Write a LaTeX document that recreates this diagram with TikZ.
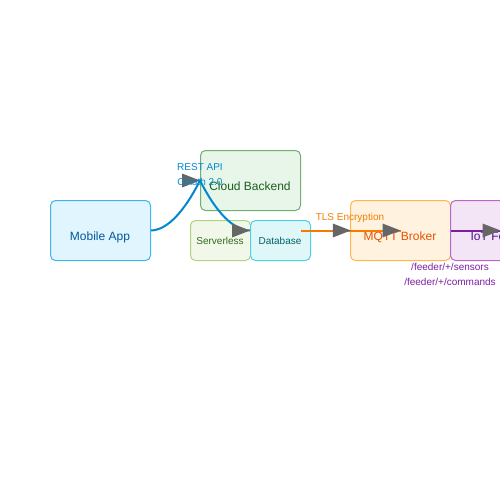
\documentclass[tikz,border=0pt]{standalone}
\usepackage{fontspec}
\setmainfont{Liberation Sans}
\usetikzlibrary{calc}
\definecolor{mobfill}{HTML}{E1F5FE}\definecolor{mobline}{HTML}{3FB5EC}\definecolor{mobtext}{HTML}{01579B}
\definecolor{cldfill}{HTML}{E8F5E9}\definecolor{cldline}{HTML}{6FAF72}\definecolor{cldtext}{HTML}{1B5E20}
\definecolor{srvfill}{HTML}{F1F8E9}\definecolor{srvline}{HTML}{AED581}\definecolor{srvtext}{HTML}{33691E}
\definecolor{dbfill}{HTML}{E0F7FA}\definecolor{dbline}{HTML}{4DD0E1}\definecolor{dbtext}{HTML}{006064}
\definecolor{mqfill}{HTML}{FFF3E0}\definecolor{mqline}{HTML}{FFB74D}\definecolor{mqtext}{HTML}{E65100}
\definecolor{iotfill}{HTML}{F3E5F5}\definecolor{iotline}{HTML}{BA68C8}\definecolor{iottext}{HTML}{4A148C}
\definecolor{blueedge}{HTML}{0288D1}\definecolor{orangeedge}{HTML}{F57C00}\definecolor{purpleedge}{HTML}{7B1FA2}
\definecolor{tipgrey}{HTML}{666666}
\newcommand\gtip[1]{\fill[tipgrey] (#1) -- ++(-18,-7) -- ++(0,14) -- cycle;}
\tikzset{
  box/.style={draw, rounded corners=5pt, line width=1pt, inner sep=0pt, anchor=north west},
  bigtxt/.style={anchor=base, inner sep=0pt, font=\fontsize{12}{14}\selectfont},
  smalltxt/.style={anchor=base, inner sep=0pt, font=\fontsize{10}{12}\selectfont},
  edge/.style={line width=2pt},
}
\begin{document}
\begin{tikzpicture}[x=1pt,y=-1pt]
\useasboundingbox (0,0) rectangle (500,500);
\clip (0,0) rectangle (500,500);
% boxes
\node[box, fill=mobfill, draw=mobline, minimum width=100pt, minimum height=60pt] (mob) at (50,200) {};
\node[box, fill=cldfill, draw=cldline, minimum width=100pt, minimum height=60pt] (cld) at (200,150) {};
\node[box, fill=srvfill, draw=srvline, minimum width=60pt, minimum height=40pt] (srv) at (190,220) {};
\node[box, fill=dbfill, draw=dbline, minimum width=60pt, minimum height=40pt] (db) at (250,220) {};
\node[box, fill=mqfill, draw=mqline, minimum width=100pt, minimum height=60pt] (mq) at (350,200) {};
\node[box, fill=iotfill, draw=iotline, minimum width=100pt, minimum height=60pt] (iot) at (450,200) {};
% box texts
\node[bigtxt, text=mobtext] (tmob) at (100,240) {Mobile App};
\node[bigtxt, text=cldtext] (tcld) at (250,190) {Cloud Backend};
\node[smalltxt, text=srvtext] (tsrv) at (220,244) {Serverless};
\node[smalltxt, text=dbtext] (tdb) at (280,244) {Database};
\node[bigtxt, text=mqtext] (tmq) at (400,240) {MQTT Broker};
\node[bigtxt, text=iottext] (tiot) at (500,240) {IoT Feeder};
% edges
\coordinate (dbin) at (db.west |- mob.east);
\draw[edge, blueedge] (mob.east) .. controls (166.67,230) and (183.33,213.33) .. (cld.west)
   .. controls (216.67,213.33) and (233.33,230) .. (dbin);
\coordinate (ostart) at (cld.east |- mq.center);
\coordinate (omid) at ($(ostart)!0.5!(mq.center)$);
\draw[edge, orangeedge] (ostart) -- (mq.center);
\draw[edge, purpleedge] (mq.east) -- (iot.center);
\gtip{cld.west}
\gtip{dbin}
\gtip{omid}
\gtip{mq.center}
\gtip{iot.center}
% edge labels
\node[smalltxt, text=blueedge] (l1) at (200,170) {REST API};
\node[smalltxt, text=blueedge] (l2) at (200,185) {OAuth 2.0};
\node[smalltxt, text=orangeedge] (l3) at (350,220) {TLS Encryption};
\node[smalltxt, text=purpleedge] (l4) at (450,270) {/feeder/+/sensors};
\node[smalltxt, text=purpleedge] (l5) at (450,285) {/feeder/+/commands};
\end{tikzpicture}
\end{document}
